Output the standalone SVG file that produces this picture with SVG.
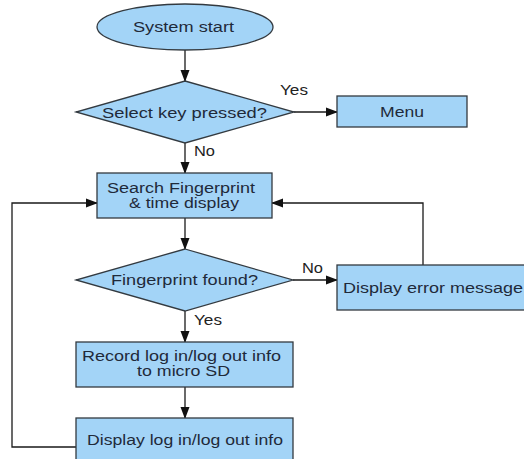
<svg xmlns="http://www.w3.org/2000/svg" width="524" height="459" viewBox="0 0 524 459">
<style>
.shape{fill:#a3d4f7;stroke:#333a40;stroke-width:1.3}
.t{font-family:"Liberation Sans",Arial,sans-serif;font-size:14px;fill:#1f2a3a}
.lbl{font-family:"Liberation Sans",Arial,sans-serif;font-size:14px;fill:#222}
.edge{fill:none;stroke:#1a1a1a;stroke-width:1.3}
</style>
<defs>
<marker id="ah" markerUnits="userSpaceOnUse" markerWidth="12" markerHeight="10" refX="11" refY="5" orient="auto">
<path d="M0,0.5 L12,5 L0,9.5 Z" fill="#111"/>
</marker>
</defs>
<rect width="524" height="459" fill="#ffffff"/>
<g id="connectors">
<path class="edge" d="M185,50 V81" marker-end="url(#ah)"/>
<path class="edge" d="M294,112 H337" marker-end="url(#ah)"/>
<path class="edge" d="M185,143 V173" marker-end="url(#ah)"/>
<path class="edge" d="M185,218 V249" marker-end="url(#ah)"/>
<path class="edge" d="M293,280 H337" marker-end="url(#ah)"/>
<path class="edge" d="M423,265 V203 H272" marker-end="url(#ah)"/>
<path class="edge" d="M185,311 V342" marker-end="url(#ah)"/>
<path class="edge" d="M185,387 V418" marker-end="url(#ah)"/>
<path class="edge" d="M76,447 H12 V203 H97" marker-end="url(#ah)"/>
<text class="lbl" x="280" y="95" textLength="28" lengthAdjust="spacingAndGlyphs">Yes</text>
<text class="lbl" x="194" y="156" textLength="21" lengthAdjust="spacingAndGlyphs">No</text>
<text class="lbl" x="302" y="273" textLength="21" lengthAdjust="spacingAndGlyphs">No</text>
<text class="lbl" x="194" y="325" textLength="28" lengthAdjust="spacingAndGlyphs">Yes</text>
</g>
<g id="start">
<ellipse class="shape" cx="185" cy="27" rx="88" ry="23"/>
<text class="t" x="133" y="32" textLength="101" lengthAdjust="spacingAndGlyphs">System start</text>
</g>
<g id="select">
<polygon class="shape" points="185,81 294,112 185,143 76,112"/>
<text class="t" x="102" y="118" textLength="165" lengthAdjust="spacingAndGlyphs">Select key pressed?</text>
</g>
<g id="menu">
<rect class="shape" x="337" y="96" width="130" height="31"/>
<text class="t" x="380" y="117" textLength="44" lengthAdjust="spacingAndGlyphs">Menu</text>
</g>
<g id="search">
<rect class="shape" x="97" y="173" width="175" height="45"/>
<text class="t" x="107" y="193" textLength="148" lengthAdjust="spacingAndGlyphs">Search Fingerprint</text>
<text class="t" x="129" y="208" textLength="110" lengthAdjust="spacingAndGlyphs">&amp; time display</text>
</g>
<g id="found">
<polygon class="shape" points="185,249 293,280 185,311 76,280"/>
<text class="t" x="111" y="285" textLength="147" lengthAdjust="spacingAndGlyphs">Fingerprint found?</text>
</g>
<g id="error">
<rect class="shape" x="337" y="265" width="200" height="45"/>
<text class="t" x="343" y="293" textLength="180" lengthAdjust="spacingAndGlyphs">Display error message</text>
</g>
<g id="record">
<rect class="shape" x="76" y="342" width="217" height="45"/>
<text class="t" x="82" y="361" textLength="199" lengthAdjust="spacingAndGlyphs">Record log in/log out info</text>
<text class="t" x="137" y="376" textLength="93" lengthAdjust="spacingAndGlyphs">to micro SD</text>
</g>
<g id="display">
<rect class="shape" x="76" y="418" width="217" height="50"/>
<text class="t" x="87" y="445" textLength="196" lengthAdjust="spacingAndGlyphs">Display log in/log out info</text>
</g>
</svg>
